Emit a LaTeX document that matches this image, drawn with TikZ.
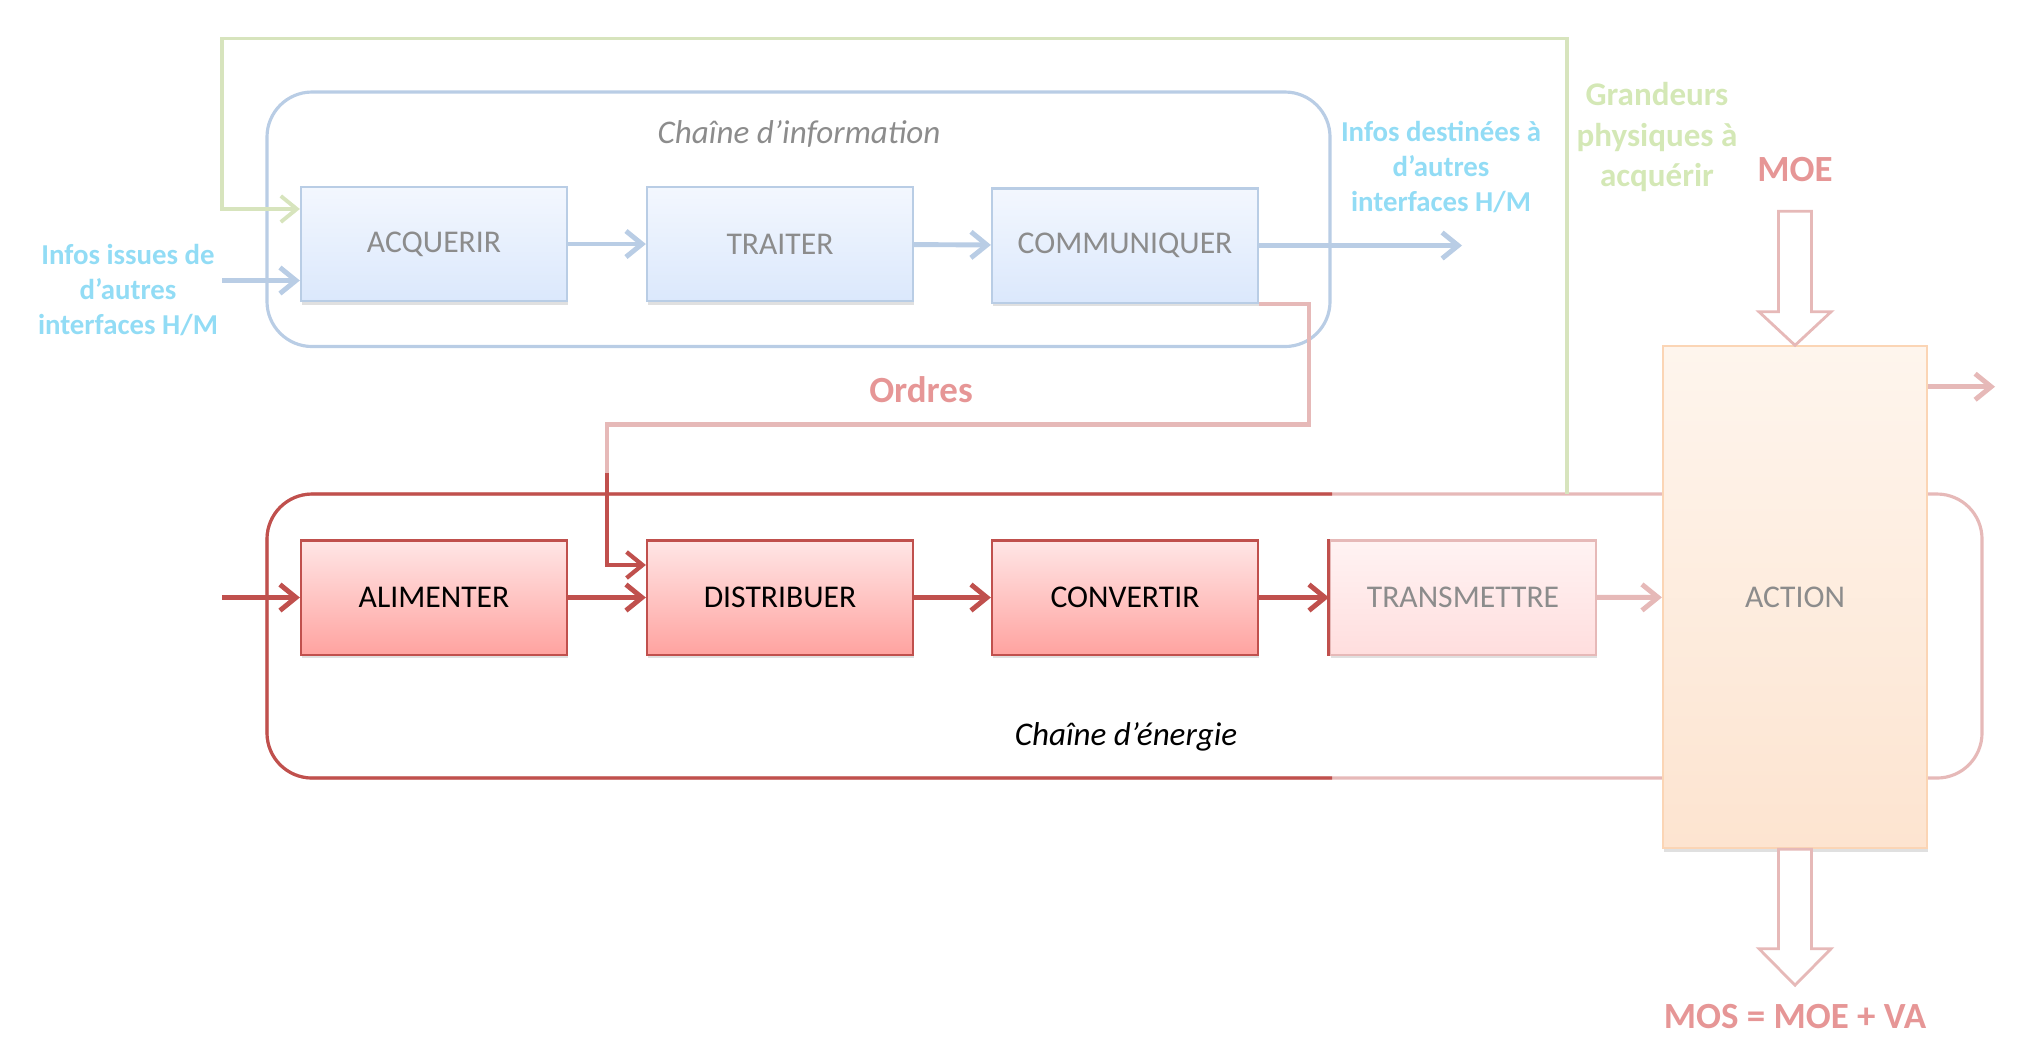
\documentclass[tikz,border=0pt]{standalone}
\usepackage{fontspec}
\setmainfont{Carlito}
\usetikzlibrary{arrows.meta,shadows}

\definecolor{infoblue}{RGB}{185,205,229}
\definecolor{infotop}{RGB}{243,247,254}
\definecolor{infobot}{RGB}{219,232,252}
\definecolor{enred}{RGB}{192,80,77}
\definecolor{entop}{RGB}{255,230,230}
\definecolor{enbot}{RGB}{255,163,160}
\definecolor{fadered}{RGB}{230,185,184}
\definecolor{fadetop}{RGB}{255,243,243}
\definecolor{fadebot}{RGB}{255,222,222}
\definecolor{acttop}{RGB}{254,245,237}
\definecolor{actbot}{RGB}{253,228,208}
\definecolor{actline}{RGB}{251,213,181}
\definecolor{grandeur}{RGB}{215,228,189}
\definecolor{grandtext}{RGB}{212,232,182}
\definecolor{cyantext}{RGB}{146,220,245}
\definecolor{ordtext}{RGB}{230,150,150}
\definecolor{greytext}{RGB}{140,140,140}

\begin{document}
\begin{tikzpicture}%
    [x=0.01cm, y=-0.01cm,
    block/.style={rectangle, minimum width=2.66cm, minimum height=1.14cm, inner sep=0mm, line width=0.6pt,
      font=\fontsize{9}{11}\selectfont, drop shadow={shadow xshift=0.1mm, shadow yshift=-0.35mm, opacity=0.12, fill=black}},
    infobox/.style={block, draw=infoblue, top color=infotop, bottom color=infobot, text=greytext},
    enbox/.style={block, draw=enred, top color=entop, bottom color=enbot, text=black},
    fadebox/.style={block, draw=fadered, top color=fadetop, bottom color=fadebot, text=greytext},
    actbox/.style={block, minimum width=2.64cm, minimum height=5.015cm, draw=actline, top color=acttop, bottom color=actbot, text=greytext},
    chainline/.style={line width=0.9pt, rounded corners=0.45cm},
    link/.style={line width=1.1pt},
    flow/.style={line width=1.4pt, -{Straight Barb[length=1.6mm, width=2.6mm]}},
    infotext/.style={align=center, font=\fontsize{8.2}{10}\selectfont\bfseries, text=cyantext},
    big/.style={font=\fontsize{10.5}{12}\selectfont\bfseries, text=ordtext},
    chainname/.style={font=\fontsize{9.4}{11}\selectfont\itshape},
    hollow/.style={draw=fadered, line width=0.8pt, fill=white, line join=miter}]

    \useasboundingbox (0,0) rectangle (2019,1050);

    \draw [chainline, infoblue] (267,92) rectangle (1330,346.5);
    \draw [chainline, fadered] (267,494) rectangle (1982,778);
    \draw [chainline, enred] (1332,494) -| (267,778) -- (1332,778);

    \coordinate (gsrc) at (1567,494);
    \coordinate (inI)  at (222,280.5);
    \coordinate (outI) at (1462,245.5);
    \coordinate (inE)  at (222,597.5);
    \coordinate (outA) at (1995,386.7);
    \coordinate (o1)   at (1309,424.5);
    \coordinate (o2)   at (607,473);

    \node [infobox] (acq)   at (434,244)    {ACQUERIR};
    \node [infobox] (trait) at (780,244)    {TRAITER};
    \node [infobox] (comm)  at (1125,245.5) {COMMUNIQUER};

    \node [enbox]   (alim)   at (434,597.5)    {ALIMENTER};
    \node [enbox]   (distr)  at (780,597.5)    {DISTRIBUER};
    \node [enbox]   (conv)   at (1125,597.5)   {CONVERTIR};
    \node [fadebox] (trans)  at (1463,597.5)   {TRANSMETTRE};
    \node [actbox]  (action) at (1795,597.25)  {ACTION};
    \draw [enred, line width=0.8pt] (trans.north west) -- (trans.south west);

    \draw [link, grandeur, -{Straight Barb[length=1.6mm, width=2.6mm]}] (gsrc) |- (222,38.5) |- ([yshift=0.35cm]acq.west);
    \draw [flow, infoblue] (inI) -- (inI -| acq.west);
    \draw [flow, infoblue] (acq) -- (trait);
    \draw [flow, infoblue] (trait) -- (comm);
    \draw [flow, infoblue] (comm) -- (outI);

    \draw [link, fadered, line width=1.2pt] (comm.south east) -| (o1) -| (o2);
    \draw [flow, enred, line width=1.2pt] (o2) |- ([yshift=0.325cm]distr.west);

    \draw [flow, enred] (inE) -- (alim);
    \draw [flow, enred] (alim) -- (distr);
    \draw [flow, enred] (distr) -- (conv);
    \draw [flow, enred] (conv) -- (trans);
    \draw [flow, fadered] (trans) -- (action);
    \draw [flow, fadered] (action.east |- outA) -- (outA);

    \draw [hollow] (action.north) -- ++(-36,-33.5) -- ++(19.5,0) -- ++(0,-100.5) -- ++(33,0) -- ++(0,100.5) -- ++(19.5,0) -- cycle;
    \draw [hollow] ([xshift=-0.165cm]action.south) -- ++(0,99.5) -- ++(-19.5,0) -- ++(36,36.5) -- ++(36,-36.5) -- ++(-19.5,0) -- ++(0,-99.5) -- cycle;

    \node [infotext] (srcI) at (128,290) {Infos issues de\\d’autres\\interfaces H/M};
    \node [infotext] (dstI) at (1441,167) {Infos destinées à\\d’autres\\interfaces H/M};
    \node [align=center, font=\fontsize{9.4}{11.4}\selectfont\bfseries, text=grandtext] (grand) at (1657,137) {Grandeurs\\physiques à\\acquérir};
    \node [big] (ordres) at (921,390)  {Ordres};
    \node [big] (moe)    at (1795,169) {MOE};
    \node [big] (mos)    at (1795,1016) {MOS = MOE + VA};
    \node [chainname, text=greytext] (infoname) at (799,134) {Chaîne d’information};
    \node [chainname, text=black]    (enname)   at (1126,737) {Chaîne d’énergie};
  \end{tikzpicture}
\end{document}
